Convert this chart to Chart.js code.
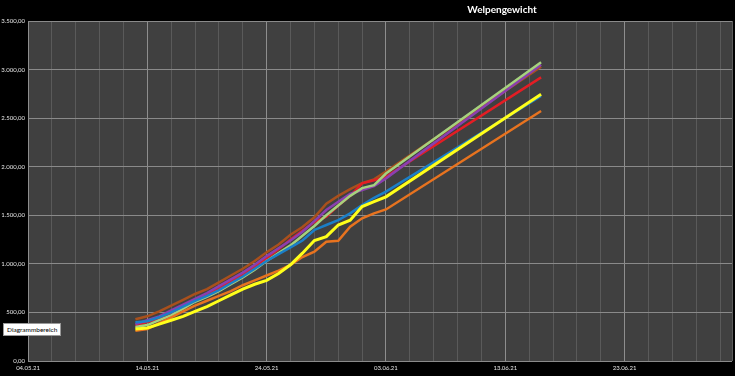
<!DOCTYPE html>
<html>
<head>
<meta charset="utf-8">
<script src="https://cdn.jsdelivr.net/npm/chart.js@4.4.0/dist/chart.umd.min.js"></script>
<style>
  html, body { margin: 0; padding: 0; background: #000; }
  #wrap { position: relative; width: 735px; height: 376px; }
  #tip {
    position: absolute; left: 3px; top: 323px;
    background: #fff; color: #000; border: 1px solid #999;
    font: 6.5px Lato, sans-serif; padding: 2px 3px; white-space: nowrap;
  }
</style>
</head>
<body>
<div id="wrap">
  <canvas id="myChart" width="735" height="376"></canvas>
  <div id="tip">Diagrammbereich</div>
</div>
<script>
// day offsets from 04.05.21
const days = [9, 10, 11, 12, 13, 14, 15, 16, 17, 18, 19, 20, 21, 22, 23, 24, 25, 26, 27, 28, 29, 30, 43];
const dateLabels = ['04.05.21', '14.05.21', '24.05.21', '03.06.21', '13.06.21', '23.06.21'];
const yTicks = [0, 500, 1000, 1500, 2000, 2500, 3000, 3500];

const gelb   = [330, 340, 380, 420, 460, 510, 560, 620, 680, 740, 790, 830, 900, 990, 1110, 1240, 1280, 1400, 1450, 1590, 1640, 1690, 2745];
const blau   = [400, 410, 450, 500, 560, 620, 670, 730, 800, 870, 950, 1030, 1100, 1170, 1240, 1349, 1400, 1451, 1520, 1606, 1680, 1743, 2728];
const orange = [310, 330, 390, 450, 510, 570, 620, 670, 720, 780, 830, 880, 930, 990, 1070, 1125, 1228, 1238, 1383, 1469, 1520, 1560, 2573];
const gruen  = [350, 370, 420, 470, 540, 610, 660, 720, 790, 860, 940, 1030, 1110, 1190, 1290, 1390, 1500, 1600, 1700, 1780, 1810, 1930, 3075];
const lila   = [380, 420, 460, 520, 580, 640, 700, 770, 840, 910, 990, 1080, 1160, 1240, 1330, 1440, 1554, 1640, 1720, 1760, 1800, 1880, 3050];
const rot    = [370, 400, 440, 500, 560, 630, 680, 750, 820, 890, 970, 1060, 1150, 1250, 1340, 1430, 1486, 1600, 1700, 1829, 1860, 1897, 2920];
const braun  = [430, 460, 510, 570, 630, 690, 740, 810, 880, 950, 1030, 1120, 1200, 1300, 1380, 1480, 1620, 1700, 1770, 1830, 1870, 1950, 3030];

function fmt(v) {
  const s = Math.round(v).toString().replace(/\B(?=(\d{3})+(?!\d))/g, '.');
  return s + ',00';
}

function toPoints(arr) {
  return arr.map((v, i) => ({ x: days[i], y: v }));
}

function line(label, arr, color, width) {
  return {
    label: label,
    data: toPoints(arr),
    borderColor: color,
    backgroundColor: color,
    borderWidth: width || 2.5,
    pointRadius: 0,
    tension: 0,
    fill: false
  };
}

const bgPlugin = {
  id: 'bg',
  beforeDraw(chart) {
    const ctx = chart.ctx;
    const a = chart.chartArea;
    ctx.save();
    ctx.fillStyle = '#000';
    ctx.fillRect(0, 0, chart.width, chart.height);
    ctx.fillStyle = '#404040';
    ctx.fillRect(a.left, a.top, a.right - a.left, a.bottom - a.top);
    ctx.restore();
  },
  afterDraw(chart) {
    const ctx = chart.ctx;
    ctx.save();
    ctx.fillStyle = '#fff';
    ctx.font = 'bold 10px Lato, sans-serif';
    ctx.textAlign = 'center';
    ctx.textBaseline = 'middle';
    ctx.fillText('Welpengewicht', 502, 10);
    ctx.restore();
  }
};

const ctx = document.getElementById('myChart').getContext('2d');
const chart = new Chart(ctx, {
  type: 'line',
  data: {
    datasets: [
      line('Gelb', gelb, '#ffff1a', 3),
      line('Blau', blau, '#1a7fc8'),
      line('Orange', orange, '#e8731f'),
      line('Grün', gruen, '#a6d27e'),
      line('Lila', lila, '#8a3fb0'),
      line('Rot', rot, '#e41d24'),
      line('Braun', braun, '#a9501c')
    ]
  },
  options: {
    responsive: false,
    animation: false,
    layout: { padding: { top: 21, right: 0, left: 0, bottom: 0 } },
    plugins: {
      legend: { display: false },
      title: { display: false },
      tooltip: { enabled: false }
    },
    scales: {
      x: {
        type: 'linear',
        min: 0,
        max: 59,
        afterFit(scale) { scale.height = 15; },
        border: { display: false },
        grid: {
          drawTicks: false,
          lineWidth: 1,
          color: c => (c.tick && c.tick.value % 10 === 0) ? '#8e8e8e' : '#5a5a5a'
        },
        ticks: {
          stepSize: 2,
          autoSkip: false,
          maxRotation: 0,
          padding: 3,
          color: '#e6e6e6',
          font: { family: 'Lato', size: 6 },
          callback: v => (v % 10 === 0 ? dateLabels[v / 10] : '')
        }
      },
      y: {
        min: 0,
        max: 3500,
        afterFit(scale) { scale.width = 28; },
        afterBuildTicks(scale) { scale.ticks = yTicks.map(v => ({ value: v })); },
        border: { display: false },
        grid: { drawTicks: false, color: '#8a8a8a', lineWidth: 1 },
        ticks: {
          padding: 3,
          color: '#e6e6e6',
          font: { family: 'Lato', size: 6 },
          callback: v => fmt(v)
        }
      }
    }
  },
  plugins: [bgPlugin]
});
</script>
</body>
</html>
